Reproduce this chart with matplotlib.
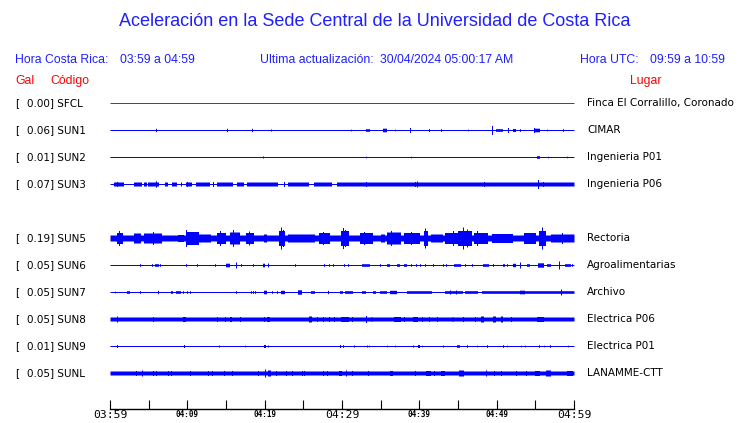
import numpy as np
import matplotlib
matplotlib.use('Agg')
import matplotlib.pyplot as plt

W, H = 740, 423

title = 'Aceleración en la Sede Central de la Universidad de Costa Rica'
hora_cr = '03:59 a 04:59'
hora_utc = '09:59 a 10:59'
actualizacion = '30/04/2024 05:00:17 AM'

codes = ['SFCL', 'SUN1', 'SUN2', 'SUN3', 'SUN5', 'SUN6', 'SUN7', 'SUN8', 'SUN9', 'SUNL']
gal = [0.00, 0.06, 0.01, 0.07, 0.19, 0.05, 0.05, 0.05, 0.01, 0.05]
places = ['Finca El Corralillo, Coronado', 'CIMAR', 'Ingenieria P01', 'Ingenieria P06',
          'Rectoria', 'Agroalimentarias', 'Archivo', 'Electrica P06', 'Electrica P01',
          'LANAMME-CTT']

# half amplitude of the quiet trace (pixels)
base_amp = [0.5, 0.5, 0.5, 0.5, 3.0, 0.5, 0.5, 2.0, 0.5, 2.0]

# bursts: (start minute, end minute, half amplitude)
bursts = {
    'SUN1': [(33.0, 33.5, 1.3), (35.3, 35.8, 1.8), (42.7, 42.9, 1.3), (49.8, 50.7, 1.3),
             (52.0, 52.4, 1.5), (54.8, 55.6, 1.8)],
    'SUN2': [(55.2, 55.5, 1.3)],
    'SUN3': [(0.4, 1.7, 2.0), (3.0, 4.1, 2.0), (4.3, 4.7, 2.0), (4.9, 6.3, 2.0), (7.0, 7.5, 2.0),
             (8.0, 8.6, 2.0), (9.1, 9.3, 2.0), (9.7, 10.6, 2.0), (11.0, 12.9, 2.0),
             (13.8, 15.9, 2.0), (16.4, 17.2, 2.0), (17.6, 21.7, 2.0), (23.0, 25.7, 2.0),
             (26.3, 28.6, 2.0), (29.3, 60.0, 2.0)],
    'SUN5': [(0.9, 1.6, 5.5), (3.0, 3.9, 5), (4.3, 6.7, 5), (8.7, 9.5, 3.5), (9.7, 11.5, 6.5),
             (11.5, 13.0, 4), (13.8, 14.9, 5.5), (15.5, 16.8, 6), (17.5, 18.5, 5.5),
             (19.8, 20.3, 4), (21.8, 22.6, 7.5), (23.0, 26.5, 4), (27.0, 28.4, 5.5),
             (29.8, 30.8, 7.5), (32.3, 34.0, 5.5), (35.0, 35.5, 4), (35.8, 37.5, 6),
             (38.0, 40.0, 5.5), (40.5, 41.0, 7.5), (41.5, 43.0, 4), (43.3, 45.0, 5.5),
             (45.0, 46.8, 7.5), (47.0, 48.8, 5.5), (49.3, 52.0, 4.5), (53.5, 55.0, 5.5),
             (55.4, 56.3, 7.5), (57.0, 60.0, 4)],
    'SUN6': [(5.8, 6.3, 1.3), (14.9, 15.5, 1.8), (19.7, 20.0, 1.8), (27.6, 27.8, 1.3),
             (32.5, 33.6, 1.3), (35.7, 36.2, 1.3), (37.0, 37.4, 1.3), (37.9, 38.4, 1.3),
             (44.4, 45.3, 1.3), (48.2, 49.0, 1.3), (50.7, 51.0, 1.3), (52.0, 52.4, 1.7),
             (53.9, 54.3, 1.3), (55.3, 56.0, 2.2), (56.4, 56.9, 1.3), (58.8, 59.5, 1.3)],
    'SUN7': [(2.1, 2.5, 1.3), (7.8, 8.1, 1.3), (8.5, 9.1, 1.3), (19.8, 20.3, 1.8),
             (22.0, 22.6, 1.7), (24.3, 24.8, 2.2), (25.9, 26.4, 1.3), (29.7, 30.1, 1.3),
             (30.3, 31.3, 1.3), (32.5, 33.0, 1.3), (33.9, 34.3, 1.3), (34.8, 35.7, 1.3),
             (36.2, 37.1, 1.7), (38.4, 41.6, 1.3), (43.3, 45.6, 1.3), (45.9, 47.5, 1.3),
             (48.0, 60.0, 1.3), (53.0, 53.6, 1.8)],
    'SUN8': [(9.4, 9.7, 2.5), (14.8, 15.0, 2.5), (15.4, 15.7, 2.5), (20.3, 20.6, 2.5),
             (25.7, 26.0, 3), (29.8, 30.8, 2.5), (33.7, 34.0, 2.2), (36.6, 37.5, 2.5),
             (39.1, 39.7, 2.5), (44.1, 44.4, 2.2), (47.9, 48.3, 3), (49.4, 49.8, 3),
             (50.5, 50.8, 3), (55.2, 56.0, 2.5)],
    'SUN9': [(19.9, 20.1, 1.5), (39.8, 40.0, 1.5), (44.8, 45.2, 1.3), (55.4, 55.6, 1.3),
             (56.8, 57.0, 1.3)],
    'SUNL': [(20.4, 20.7, 3), (29.6, 29.9, 2.5), (36.1, 36.5, 2.5), (40.8, 41.4, 2.5),
             (42.8, 43.3, 2.5), (45.1, 45.7, 3), (54.9, 55.5, 2.5), (56.3, 57.0, 3),
             (59.0, 59.8, 2.5)],
}

# spikes: (minute, half amplitude)
spikes = {
    'SUN1': [(5.9, 1.7), (15.1, 1.7), (18.4, 1.7), (20.8, 1.0), (31.1, 0.8), (36.9, 0.8),
             (38.8, 2.5), (41.3, 1.5), (46.3, 0.8), (49.4, 4.5), (51.5, 2.5), (53.0, 1.3),
             (54.8, 2.5), (56.5, 0.8), (58.6, 1.3)],
    'SUN2': [(19.8, 1.0), (33.1, 0.8), (38.9, 0.8), (56.6, 0.8), (59.1, 0.8)],
    'SUN3': [(0.9, 2.5), (5.9, 3.2), (10.0, 2.5), (13.3, 2.5), (22.5, 2.5), (33.1, 2.5),
             (33.6, 2.0), (35.6, 2.0), (38.9, 2.0), (39.4, 2.5), (39.7, 3.0), (44.2, 2.0),
             (45.3, 2.0), (47.2, 2.0), (48.4, 2.5), (55.3, 4.5), (56.0, 2.5)],
    'SUN5': [(1.2, 7.5), (5.6, 6.5), (9.8, 8.5), (10.3, 6.5), (14.2, 7.5), (15.9, 8.5), (18.0, 7),
             (22.1, 11), (22.4, 8.5), (27.6, 6.5), (30.1, 10.5), (30.4, 8.5), (32.8, 6.5),
             (36.4, 7.5), (38.9, 6.5), (40.7, 10), (44.3, 7.5), (45.6, 11), (46.1, 9),
             (47.5, 7.5), (55.8, 11), (58.5, 5.5)],
    'SUN6': [(3.9, 1.3), (5.4, 1.3), (6.5, 1.3), (9.8, 1.3), (11.3, 1.3), (13.6, 1.3),
             (16.3, 3.0), (16.9, 1.3), (18.5, 1.3), (20.4, 2.0), (23.9, 1.3), (28.3, 1.3),
             (28.9, 1.3), (30.3, 1.3), (30.8, 1.3), (34.9, 1.3), (38.9, 1.3), (39.6, 1.3),
             (40.1, 1.3), (40.7, 1.3), (41.8, 1.3), (43.1, 1.3), (43.5, 1.3), (45.9, 1.3),
             (46.8, 1.3), (49.5, 1.3), (51.4, 1.3), (53.0, 3.0), (58.0, 4.0), (59.8, 1.3)],
    'SUN7': [(0.6, 0.8), (3.9, 1.3), (6.2, 1.7), (9.5, 1.3), (9.9, 1.3), (10.3, 1.3),
             (16.3, 1.3), (18.2, 1.3), (18.5, 1.3), (18.8, 1.3), (20.9, 1.3), (21.6, 1.3),
             (28.2, 1.7), (44.0, 2.0), (44.8, 2.0), (58.3, 3.0)],
    'SUN8': [(0.9, 3.0), (5.6, 2.5), (13.8, 2.5), (16.8, 2.5), (19.9, 2.5), (26.8, 2.5),
             (27.6, 2.5), (28.3, 2.5), (29.0, 2.5), (31.3, 2.5), (33.1, 3.5), (38.0, 2.5),
             (40.4, 2.5), (41.2, 2.5), (42.3, 2.5), (45.6, 2.5), (47.2, 2.5), (51.8, 2.5)],
    'SUN9': [(0.9, 1.5), (9.6, 1.5), (14.1, 1.0), (17.4, 0.8), (20.4, 1.0), (29.7, 1.5),
             (30.1, 1.3), (31.5, 1.0), (33.2, 1.0), (33.5, 0.8), (35.8, 0.8), (36.9, 0.8),
             (39.2, 1.0), (40.4, 0.8), (43.1, 1.0), (46.1, 1.3), (47.5, 0.8), (48.8, 1.3),
             (50.8, 1.3), (51.4, 0.8), (53.1, 0.8), (53.6, 0.8), (56.1, 0.8), (59.2, 0.8)],
    'SUNL': [(3.4, 2.5), (4.1, 3.0), (5.5, 2.5), (6.0, 2.5), (7.5, 2.5), (7.9, 2.5),
             (10.3, 2.5), (12.7, 2.5), (13.2, 2.5), (14.8, 2.5), (15.8, 2.5), (19.1, 2.5),
             (20.0, 4.0), (21.5, 2.5), (22.8, 2.5), (23.5, 2.5), (24.8, 2.5), (25.1, 2.5),
             (27.6, 2.5), (28.0, 2.5), (30.5, 3.0), (31.3, 2.5), (33.3, 2.5), (39.5, 2.5),
             (41.9, 2.5), (48.6, 3.0), (49.6, 2.5), (50.5, 2.5), (52.5, 2.5), (53.8, 2.5)],
}

tick_labels = {0: '03:59', 10: '04:09', 20: '04:19', 30: '04:29', 40: '04:39', 50: '04:49', 60: '04:59'}
big_ticks = [0, 30, 60]

BLUE = '#0000ff'
TBLUE = '#1f1fff'
RED = '#ff0000'
SANS = 'Liberation Sans'
HEAD = 8.8
ROW = 7.5

fig = plt.figure(figsize=(W / 100, H / 100), dpi=100)


def fx(px):
    return px / W


def fy(py):
    return 1 - py / H


# header
fig.text(fx(375), fy(22), title, color=TBLUE, fontsize=13, family=SANS, ha='center', va='center')
fig.text(fx(15), fy(60), 'Hora Costa Rica:', color=TBLUE, fontsize=HEAD, family=SANS, va='center')
fig.text(fx(120), fy(60), hora_cr, color=TBLUE, fontsize=HEAD, family=SANS, va='center')
fig.text(fx(260), fy(60), 'Ultima actualización:', color=TBLUE, fontsize=HEAD, family=SANS, va='center')
fig.text(fx(380), fy(60), actualizacion, color=TBLUE, fontsize=HEAD, family=SANS, va='center')
fig.text(fx(580), fy(60), 'Hora UTC:', color=TBLUE, fontsize=HEAD, family=SANS, va='center')
fig.text(fx(650), fy(60), hora_utc, color=TBLUE, fontsize=HEAD, family=SANS, va='center')
fig.text(fx(15), fy(81), 'Gal', color=RED, fontsize=HEAD, family=SANS, va='center')
fig.text(fx(50), fy(81), 'Código', color=RED, fontsize=HEAD, family=SANS, va='center')
fig.text(fx(646), fy(81), 'Lugar', color=RED, fontsize=HEAD, family=SANS, ha='center', va='center')

# trace area, y axis in pixels
top, bottom = 90, 409
ax = fig.add_axes([fx(110), fy(bottom), (574 - 110) / W, (bottom - top) / H])
ax.set_xlim(0, 60)
ax.set_ylim(bottom, top)

t = np.linspace(0, 60, 465)
for i, code in enumerate(codes):
    slot = i + 1 if i >= 4 else i  # SUN4 row is empty
    y0 = 103 + 27 * slot
    env = np.full_like(t, base_amp[i])
    for s, e, a in bursts.get(code, []):
        m = (t >= s) & (t <= e)
        env[m] = np.maximum(env[m], a)
    for m0, a in spikes.get(code, []):
        k = np.argmin(np.abs(t - m0))
        env[k] = max(env[k], a)
    col = RED if code == 'SFCL' else BLUE
    ax.fill_between(t, y0 - env, y0 + env, step='mid', color=col, linewidth=0)

    fig.text(fx(15), fy(y0), '[', fontsize=ROW, va='center')
    fig.text(fx(27), fy(y0), f'{gal[i]:.2f}] {code}', fontsize=ROW, va='center')
    fig.text(fx(587), fy(y0), places[i], fontsize=ROW, va='center')

ax.set_yticks([])
for sp in ['left', 'right', 'top']:
    ax.spines[sp].set_visible(False)
ax.spines['bottom'].set_linewidth(1)
ax.set_xticks(range(0, 61, 5))
ax.set_xticklabels([tick_labels.get(m, '') for m in range(0, 61, 5)])
ax.tick_params(axis='x', direction='in', length=6.5, width=0.8, pad=0.5)
for m, lab in zip(range(0, 61, 5), ax.get_xticklabels()):
    lab.set_family('DejaVu Sans Mono')
    if m in big_ticks:
        lab.set_fontsize(8.2)
    else:
        lab.set_fontsize(5.5)
        lab.set_fontweight('bold')

fig.savefig('out.png', dpi=100)
